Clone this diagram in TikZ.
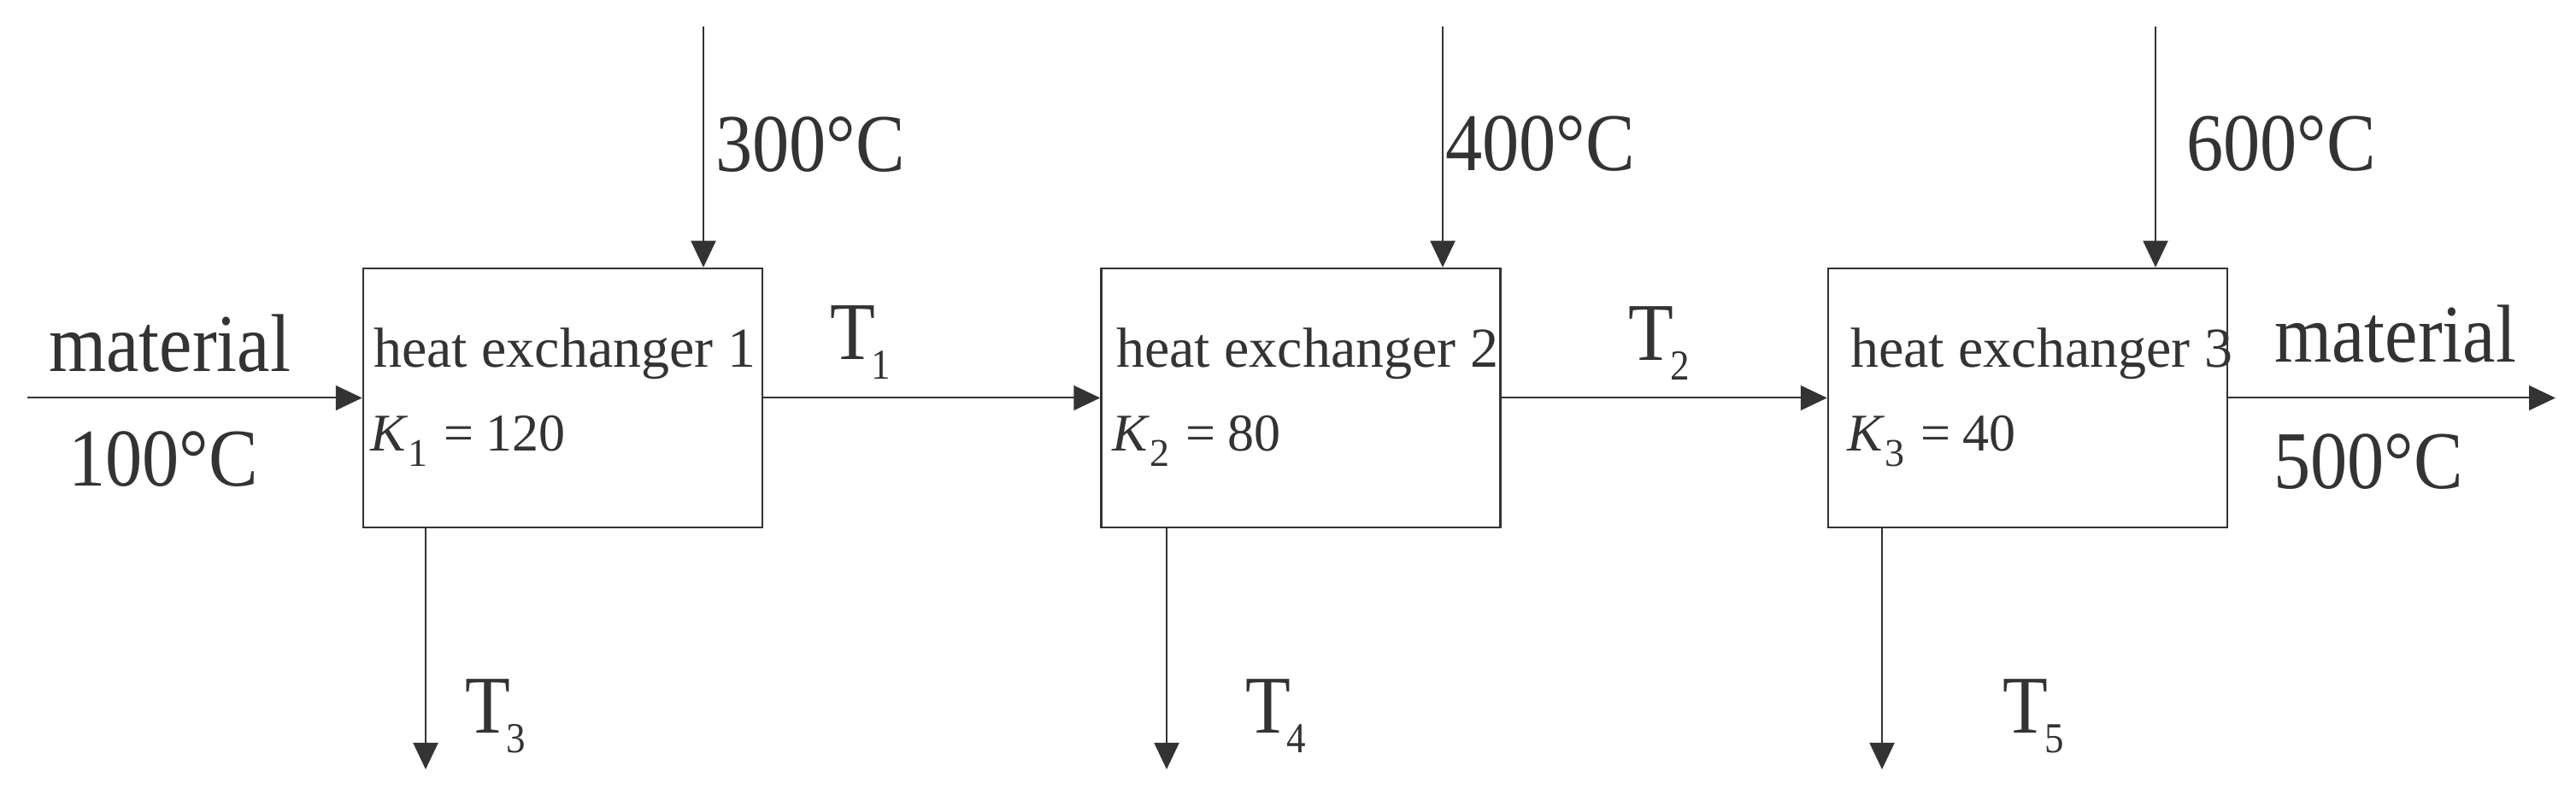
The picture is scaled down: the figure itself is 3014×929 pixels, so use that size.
\documentclass[tikz,border=0pt]{standalone}
\usepackage{fontspec}
\setmainfont{Liberation Serif}
\newfontfamily\bigf[FakeStretch=0.9]{Liberation Serif}
\usetikzlibrary{arrows.meta}
\definecolor{ink}{HTML}{333333}
\newcommand\bigtext{\bigf\fontsize{96}{100}\selectfont}
\newcommand\boxtext{\fontsize{66}{70}\selectfont}
\newcommand\ktext{\fontsize{62}{66}\selectfont}
\newcommand\Tlab[1]{T\kern-4pt\raisebox{-23pt}{\fontsize{50}{50}\selectfont #1}}
\newcommand\Klab[2]{{\itshape K}\kern3pt\raisebox{-18pt}{\fontsize{46}{46}\selectfont #1}\kern19pt=\kern14pt #2}
\tikzset{
  hxbox/.style={draw=ink, line width=2.5pt, minimum width=467pt, minimum height=303pt, inner sep=0pt},
  flow/.style={draw=ink, line width=2pt, -{Triangle[length=31pt,width=29pt]}},
  lbl/.style={inner sep=0pt, anchor=base west, text=ink},
}
\begin{document}
\begin{tikzpicture}[x=1pt,y=1pt]
\useasboundingbox (0,0) rectangle (3014,929);
% boxes
\node[hxbox] (b1) at (658.5,463.5) {};
\node[hxbox] (b2) at (1522,463.5) {};
\node[hxbox] (b3) at (2372.5,463.5) {};
% free ends
\coordinate (in0) at (32,463.5);
\coordinate (out0) at (2990,463.5);
\coordinate (top1) at (823,898);
\coordinate (top2) at (1688,898);
\coordinate (top3) at (2522,898);
\coordinate (bot1) at (498,29);
\coordinate (bot2) at (1365,29);
\coordinate (bot3) at (2202,29);
% connectors
\draw[flow] (in0) -- (b1.west);
\draw[flow] (b1.east) -- (b2.west);
\draw[flow] (b2.east) -- (b3.west);
\draw[flow] (b3.east) -- (out0);
\draw[flow] (top1) -- (top1 |- b1.north);
\draw[flow] (top2) -- (top2 |- b2.north);
\draw[flow] (top3) -- (top3 |- b3.north);
\draw[flow] (bot1 |- b1.south) -- (bot1);
\draw[flow] (bot2 |- b2.south) -- (bot2);
\draw[flow] (bot3 |- b3.south) -- (bot3);
% box texts
\node[lbl] (h1) at (437,499) {\boxtext heat exchanger 1};
\node[lbl] (h2) at (1306,499) {\boxtext heat exchanger 2};
\node[lbl] (h3) at (2165,499) {\boxtext heat exchanger 3};
\node[lbl] (k1) at (433,401) {\ktext\Klab{1}{120}};
\node[lbl] (k2) at (1301,401) {\ktext\Klab{2}{80}};
\node[lbl] (k3) at (2161,401) {\ktext\Klab{3}{40}};
% stream labels
\node[lbl] (min) at (57,494) {\bigtext material};
\node[lbl] (tin) at (80,360) {\bigtext 100°C};
\node[lbl] (mout) at (2661,505) {\bigtext material};
\node[lbl] (tout) at (2660,357) {\bigtext 500°C};
\node[lbl] (s1) at (837,728) {\bigtext 300°C};
\node[lbl] (s2) at (1691,729) {\bigtext 400°C};
\node[lbl] (s3) at (2558,729) {\bigtext 600°C};
\node[lbl] (t1) at (971,508) {\bigtext\Tlab{1}};
\node[lbl] (t2) at (1905,507) {\bigtext\Tlab{2}};
\node[lbl] (t3) at (544,71) {\bigtext\Tlab{3}};
\node[lbl] (t4) at (1457,71) {\bigtext\Tlab{4}};
\node[lbl] (t5) at (2343,71) {\bigtext\Tlab{5}};
\end{tikzpicture}
\end{document}
